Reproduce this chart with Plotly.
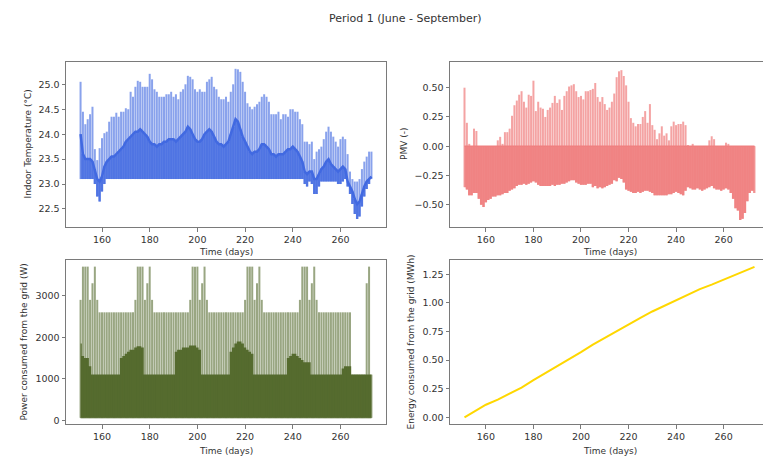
import plotly.graph_objects as go

# ---------------- data ----------------
first_day = 151

# Indoor temperature (deg C): daily peak, typical (dense band) and minimum
temp_max = [
    25.05, 24.45, 24.20, 24.30, 24.40, 24.55, 23.70, 23.48, 23.72, 23.92,
    24.02, 24.05, 24.25, 24.35, 24.35, 24.43, 24.35, 24.45, 24.45, 24.52,
    24.50, 24.85, 24.75, 24.95, 25.07, 25.05, 24.95, 24.95, 24.95, 25.21,
    25.10, 24.90, 24.85, 24.75, 24.75, 24.75, 24.80, 24.80, 24.85, 24.75,
    24.80, 24.70, 24.85, 24.90, 25.00, 25.17, 25.15, 25.10, 24.90, 24.85,
    24.90, 24.85, 24.85, 25.05, 25.10, 25.15, 24.95, 24.90, 24.75, 24.70,
    24.70, 24.75, 24.65, 24.85, 25.00, 25.31, 25.30, 25.25, 25.05, 24.85,
    24.62, 24.55, 24.50, 24.55, 24.60, 24.65, 24.75, 24.80, 24.75, 24.65,
    24.40, 24.40, 24.40, 24.45, 24.30, 24.40, 24.40, 24.35, 24.50, 24.50,
    24.45, 24.45, 24.30, 24.20, 23.85, 23.85, 23.80, 23.85, 23.50, 23.65,
    23.70, 23.75, 23.90, 24.05, 24.15, 24.05, 23.95, 23.85, 23.75, 23.90,
    23.95, 23.90, 23.60, 23.25, 23.10, 23.05, 23.05, 23.10, 23.30, 23.45,
    23.55, 23.65, 23.65,
]
temp_mid = [
    24.00, 23.60, 23.50, 23.50, 23.50, 23.45, 23.30, 23.10, 23.05, 23.15,
    23.35, 23.45, 23.50, 23.55, 23.55, 23.60, 23.65, 23.70, 23.75, 23.85,
    23.90, 23.95, 24.00, 24.05, 24.05, 24.10, 24.05, 24.00, 23.95, 23.85,
    23.80, 23.80, 23.75, 23.80, 23.80, 23.85, 23.85, 23.90, 23.90, 23.90,
    23.85, 23.90, 23.95, 24.00, 24.05, 24.15, 24.10, 24.00, 23.90, 23.85,
    23.85, 23.90, 24.00, 24.05, 24.10, 24.05, 23.95, 23.85, 23.80, 23.80,
    23.75, 23.80, 23.85, 24.00, 24.15, 24.30, 24.25, 24.10, 23.95, 23.85,
    23.75, 23.65, 23.60, 23.65, 23.65, 23.70, 23.80, 23.80, 23.75, 23.70,
    23.60, 23.60, 23.55, 23.60, 23.60, 23.60, 23.65, 23.70, 23.70, 23.75,
    23.70, 23.65, 23.55, 23.45, 23.25, 23.20, 23.25, 23.25, 23.10, 23.10,
    23.20, 23.30, 23.35, 23.45, 23.50, 23.40, 23.35, 23.30, 23.25, 23.30,
    23.35, 23.30, 23.05, 22.95, 22.85, 22.70, 22.60, 22.65, 22.80, 22.95,
    23.05, 23.10, 23.15,
]
temp_min = [
    23.10, 23.10, 23.10, 23.10, 23.10, 23.10, 23.00, 22.75, 22.65, 22.85,
    23.00, 23.10, 23.10, 23.10, 23.10, 23.10, 23.10, 23.10, 23.10, 23.10,
    23.10, 23.10, 23.10, 23.10, 23.10, 23.10, 23.10, 23.10, 23.10, 23.10,
    23.10, 23.10, 23.10, 23.10, 23.10, 23.10, 23.10, 23.10, 23.10, 23.10,
    23.10, 23.10, 23.10, 23.10, 23.10, 23.10, 23.10, 23.10, 23.10, 23.10,
    23.10, 23.10, 23.10, 23.10, 23.10, 23.10, 23.10, 23.10, 23.10, 23.10,
    23.10, 23.10, 23.10, 23.10, 23.10, 23.10, 23.10, 23.10, 23.10, 23.10,
    23.10, 23.10, 23.10, 23.10, 23.10, 23.10, 23.10, 23.10, 23.10, 23.10,
    23.10, 23.10, 23.10, 23.10, 23.10, 23.10, 23.10, 23.10, 23.10, 23.10,
    23.10, 23.10, 23.10, 23.10, 23.00, 22.95, 23.05, 23.00, 22.80, 22.80,
    22.95, 23.05, 23.05, 23.05, 23.05, 23.05, 23.05, 23.05, 23.00, 23.00,
    23.05, 23.10, 22.95, 22.80, 22.60, 22.40, 22.30, 22.35, 22.55, 22.75,
    22.90, 23.00, 23.10,
]

# PMV (-): daily maximum and minimum, neutral level 0
pmv_max = [
    0.50, 0.20, 0.02, 0.00, 0.15, 0.13, 0.00, 0.00, 0.00, 0.00,
    0.00, 0.00, 0.00, 0.00, 0.05, 0.08, 0.02, 0.12, 0.12, 0.15,
    0.26, 0.35, 0.39, 0.44, 0.47, 0.38, 0.33, 0.44, 0.43, 0.56,
    0.30, 0.38, 0.33, 0.32, 0.25, 0.31, 0.33, 0.37, 0.43, 0.37,
    0.40, 0.31, 0.43, 0.47, 0.51, 0.52, 0.53, 0.47, 0.42, 0.43,
    0.40, 0.47, 0.47, 0.48, 0.49, 0.54, 0.42, 0.38, 0.42, 0.36,
    0.31, 0.33, 0.38, 0.45, 0.59, 0.64, 0.65, 0.60, 0.52, 0.38,
    0.24, 0.20, 0.17, 0.19, 0.19, 0.25, 0.30, 0.20, 0.36, 0.18,
    0.14, 0.06, 0.11, 0.17, 0.09, 0.11, 0.05, 0.17, 0.21, 0.18,
    0.19, 0.19, 0.21, 0.18, 0.01, 0.00, 0.02, 0.00, 0.00, 0.00,
    0.00, 0.00, 0.00, 0.05, 0.085, 0.06, 0.00, 0.00, 0.00, 0.00,
    0.03, 0.02, 0.00, 0.00, 0.00, 0.00, 0.00, 0.00, 0.00, 0.00,
    0.00, 0.00, 0.00,
]
pmv_min = [
    -0.35, -0.37, -0.42, -0.42, -0.40, -0.40, -0.45, -0.50, -0.52, -0.48,
    -0.46, -0.45, -0.43, -0.43, -0.42, -0.42, -0.41, -0.40, -0.40, -0.38,
    -0.37, -0.36, -0.34, -0.33, -0.33, -0.32, -0.33, -0.32, -0.31, -0.30,
    -0.31, -0.33, -0.34, -0.34, -0.34, -0.34, -0.34, -0.33, -0.34, -0.33,
    -0.33, -0.32, -0.32, -0.31, -0.30, -0.29, -0.29, -0.31, -0.32, -0.33,
    -0.33, -0.33, -0.32, -0.32, -0.35, -0.34, -0.36, -0.35, -0.36, -0.35,
    -0.34, -0.33, -0.32, -0.29, -0.30, -0.27, -0.28, -0.31, -0.37, -0.38,
    -0.39, -0.40, -0.40, -0.39, -0.40, -0.39, -0.38, -0.38, -0.39, -0.40,
    -0.42, -0.42, -0.42, -0.42, -0.42, -0.42, -0.41, -0.41, -0.40, -0.39,
    -0.40, -0.41, -0.42, -0.38, -0.35, -0.36, -0.37, -0.37, -0.36, -0.37,
    -0.38, -0.37, -0.36, -0.35, -0.34, -0.36, -0.37, -0.37, -0.38, -0.37,
    -0.36, -0.37, -0.40, -0.45, -0.53, -0.55, -0.63, -0.62, -0.57, -0.47,
    -0.40, -0.38, -0.40,
]
pmv_neutral = 0.0

# Power consumed from the grid (W): daily peak and dense (typical) level
power_peak = [
    2900, 3700, 3700, 3700, 2900, 3300, 3700, 2900, 2600, 2600,
    2600, 2600, 2600, 2600, 2600, 2600, 2600, 2600, 2600, 2600,
    2600, 2600, 2600, 2900, 3700, 3700, 3700, 2900, 3300, 3700,
    2900, 2600, 2600, 2600, 2600, 2600, 2600, 2600, 2600, 2600,
    2600, 2600, 2600, 2600, 2600, 2600, 2900, 3700, 3700, 3700,
    2900, 3300, 3700, 2900, 2600, 2600, 2600, 2600, 2600, 2600,
    2600, 2600, 2600, 2600, 2600, 2600, 2600, 2600, 2600, 2900,
    3700, 3700, 3700, 2900, 3300, 3700, 2900, 2600, 2600, 2600,
    2600, 2600, 2600, 2600, 2600, 2600, 2600, 2600, 2600, 2600,
    2600, 2600, 2900, 3700, 3700, 3700, 2900, 3300, 3700, 2900,
    2600, 2600, 2600, 2600, 2600, 2600, 2600, 2600, 2600, 2600,
    2600, 2600, 2600, 2600, 1100, 1100, 1100, 1100, 1100, 1100,
    3300, 3700, 1100,
]
power_dense = [
    1850, 1550, 1500, 1500, 1300, 1100, 1100, 1100, 1100, 1100,
    1100, 1100, 1100, 1100, 1100, 1100, 1100, 1500, 1550, 1600,
    1650, 1700, 1700, 1750, 1780, 1780, 1750, 1100, 1100, 1100,
    1100, 1100, 1100, 1100, 1100, 1100, 1100, 1100, 1100, 1100,
    1650, 1700, 1700, 1750, 1750, 1750, 1800, 1800, 1800, 1750,
    1700, 1100, 1100, 1100, 1100, 1100, 1100, 1100, 1100, 1100,
    1100, 1100, 1100, 1650, 1750, 1850, 1900, 1900, 1850, 1750,
    1700, 1650, 1600, 1100, 1100, 1100, 1100, 1100, 1100, 1100,
    1100, 1100, 1100, 1100, 1100, 1100, 1100, 1500, 1550, 1600,
    1600, 1550, 1500, 1450, 1400, 1400, 1400, 1100, 1100, 1100,
    1100, 1100, 1100, 1100, 1100, 1100, 1100, 1100, 1100, 1100,
    1250, 1300, 1300, 1300, 1100, 1100, 1100, 1100, 1100, 1100,
    1100, 1100, 1100,
]
power_base = 60

# Cumulative energy consumed from the grid (MWh)
energy_days = [151, 155, 160, 165, 170, 175, 180, 185, 190, 195, 200, 205, 210,
               215, 220, 225, 230, 235, 240, 245, 250, 255, 260, 265, 270, 273]
energy_mwh = [0.00, 0.05, 0.11, 0.155, 0.205, 0.26, 0.325, 0.385, 0.445, 0.505,
              0.57, 0.635, 0.695, 0.755, 0.815, 0.87, 0.925, 0.975, 1.025, 1.075,
              1.12, 1.16, 1.205, 1.25, 1.29, 1.315]

title_text = "Period 1 (June - September)"
x_title = "Time (days)"
y_titles = ["Indoor Temperature (°C)", "PMV (-)",
            "Power consumed from the grid (W)", "Energy consumed from the grid (MWh)"]

# ---------------- figure ----------------
n = min(len(temp_max), len(temp_mid), len(temp_min), len(pmv_max), len(pmv_min),
        len(power_peak), len(power_dense))
days = [first_day + i for i in range(n)]

BLUE = "#4169E1"
CORAL = "#F08080"
OLIVE = "#556B2F"
GOLD = "#FFD700"


def segments(xs, lo, hi):
    sx, sy = [], []
    for x, a, b in zip(xs, lo, hi):
        sx += [x, x, None]
        sy += [a, b, None]
    return sx, sy


fig = go.Figure()

# --- temperature ---
fig.add_trace(go.Scatter(x=days, y=temp_min[:n], mode="lines", line=dict(width=0, shape="hvh"),
                         xaxis="x", yaxis="y", hoverinfo="skip"))
fig.add_trace(go.Scatter(x=days, y=temp_mid[:n], mode="lines", line=dict(width=0, shape="hvh"),
                         fill="tonexty", fillcolor="rgba(65,105,225,0.8)",
                         xaxis="x", yaxis="y", hoverinfo="skip"))
sx, sy = segments(days, temp_min, temp_max)
fig.add_trace(go.Scatter(x=sx, y=sy, mode="lines", line=dict(color="rgba(65,105,225,0.62)", width=2),
                         xaxis="x", yaxis="y"))
fig.add_trace(go.Scatter(x=days, y=temp_mid[:n], mode="lines", line=dict(color=BLUE, width=2.5),
                         xaxis="x", yaxis="y"))

# --- PMV ---
pmv_zero = [pmv_neutral for _ in days]
fig.add_trace(go.Scatter(x=days, y=pmv_zero, mode="lines", line=dict(color=CORAL, width=1.5),
                         xaxis="x2", yaxis="y2", hoverinfo="skip"))
fig.add_trace(go.Scatter(x=days, y=pmv_min[:n], mode="lines", line=dict(width=0, shape="hvh"),
                         fill="tonexty", fillcolor="rgba(240,128,128,0.9)",
                         xaxis="x2", yaxis="y2", hoverinfo="skip"))
sx, sy = segments(days, pmv_min, pmv_max)
fig.add_trace(go.Scatter(x=sx, y=sy, mode="lines", line=dict(color="rgba(240,128,128,0.72)", width=2),
                         xaxis="x2", yaxis="y2"))

# --- power ---
p_base = [power_base for _ in days]
fig.add_trace(go.Scatter(x=days, y=p_base, mode="lines", line=dict(color=OLIVE, width=1, shape="hvh"),
                         xaxis="x3", yaxis="y3", hoverinfo="skip"))
fig.add_trace(go.Scatter(x=days, y=power_dense[:n], mode="lines", line=dict(width=0, shape="hvh"),
                         fill="tonexty", fillcolor=OLIVE,
                         xaxis="x3", yaxis="y3", hoverinfo="skip"))
sx, sy = segments(days, p_base, power_peak)
fig.add_trace(go.Scatter(x=sx, y=sy, mode="lines", line=dict(color="rgba(85,107,47,0.6)", width=2),
                         xaxis="x3", yaxis="y3"))

# --- energy ---
fig.add_trace(go.Scatter(x=energy_days, y=energy_mwh, mode="lines", line=dict(color=GOLD, width=2),
                         xaxis="x4", yaxis="y4"))

# Window is 771x456; the page body has an 8px default margin, so the figure is
# made 8px smaller and all placements are given in window pixels minus 8.
WIN_W, WIN_H, OFF = 771, 456, 8
W, H = WIN_W - OFF, WIN_H - OFF


def px(x):
    return (x - OFF) / W


def py(y):
    return 1 - (y - OFF) / H


L1, R1, L2, R2 = 66, 386, 450, 769
T1, B1, T2, B2 = 62, 227, 260, 424

FONT = "DejaVu Sans, Liberation Sans, sans-serif"
TXT = "#333333"
SPINE = "#7a7a7a"

axis_common = dict(showline=True, linecolor=SPINE, linewidth=1, mirror=True,
                   ticks="outside", ticklen=3.5, tickcolor=SPINE, tickwidth=1,
                   showgrid=False, zeroline=False, automargin=False,
                   tickfont=dict(family=FONT, size=9.5, color=TXT))
xr = [144.9, 279.1]
xticks = [160, 180, 200, 220, 240, 260]

fig.update_layout(
    width=W, height=H,
    margin=dict(l=0, r=0, t=0, b=0, autoexpand=False),
    paper_bgcolor="white", plot_bgcolor="white",
    showlegend=False,
    xaxis=dict(domain=[px(L1), px(R1)], range=xr, tickvals=xticks, anchor="y", **axis_common),
    yaxis=dict(domain=[py(B1), py(T1)], range=[22.139, 25.447],
               tickvals=[22.5, 23.0, 23.5, 24.0, 24.5, 25.0], tickformat=".1f", anchor="x", **axis_common),
    xaxis2=dict(domain=[px(L2), px(R2)], range=xr, tickvals=xticks, anchor="y2", **axis_common),
    yaxis2=dict(domain=[py(B1), py(T1)], range=[-0.6906, 0.7197],
                tickvals=[-0.5, -0.25, 0, 0.25, 0.5], tickformat=".2f", anchor="x2", **axis_common),
    xaxis3=dict(domain=[px(L1), px(R1)], range=xr, tickvals=xticks, anchor="y3", **axis_common),
    yaxis3=dict(domain=[py(B2), py(T2)], range=[-89, 3859.6],
                tickvals=[0, 1000, 2000, 3000], tickformat="d", anchor="x3", **axis_common),
    xaxis4=dict(domain=[px(L2), px(R2)], range=xr, tickvals=xticks, anchor="y4", **axis_common),
    yaxis4=dict(domain=[py(B2), py(T2)], range=[-0.0586, 1.375],
                tickvals=[0, 0.25, 0.5, 0.75, 1.0, 1.25], tickformat=".2f", anchor="x4", **axis_common),
)

ann = []
ann.append(dict(text=title_text, x=px(405.8), y=py(19), xref="paper", yref="paper",
                showarrow=False, font=dict(family=FONT, size=11, color=TXT),
                xanchor="center", yanchor="middle"))
for cx, cy in [((L1 + R1) / 2, 251.5), ((L2 + R2) / 2, 251.5),
               ((L1 + R1) / 2, 450.5), ((L2 + R2) / 2, 450.5)]:
    ann.append(dict(text=x_title, x=px(cx), y=py(cy), xref="paper", yref="paper",
                    showarrow=False, font=dict(family=FONT, size=9, color=TXT),
                    xanchor="center", yanchor="middle"))
for t, cx, cy in [(y_titles[0], 27, (T1 + B1) / 2), (y_titles[1], 403.5, (T1 + B1) / 2),
                  (y_titles[2], 23.5, (T2 + B2) / 2), (y_titles[3], 410.5, (T2 + B2) / 2)]:
    ann.append(dict(text=t, x=px(cx), y=py(cy), xref="paper", yref="paper",
                    showarrow=False, textangle=-90, font=dict(family=FONT, size=9, color=TXT),
                    xanchor="center", yanchor="middle"))
fig.update_layout(annotations=ann)

fig.write_html("out.html")
